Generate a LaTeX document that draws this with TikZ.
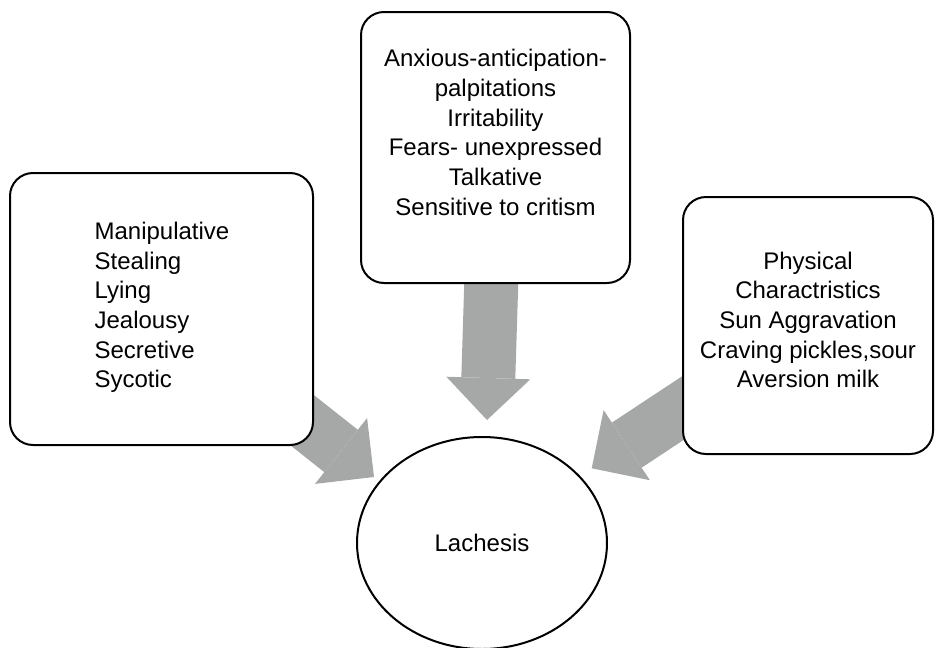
\documentclass[tikz,border=0pt]{standalone}
\usepackage{fontspec}
\setmainfont{Liberation Sans}
\usepackage{tikz}
\usetikzlibrary{shapes.geometric, arrows.meta, backgrounds}

\definecolor{arrowgrey}{RGB}{166,168,167}

\begin{document}
\begin{tikzpicture}[x=1pt, y=-1pt,
    box/.style={draw, line width=2pt, rounded corners=23pt, fill=white},
    boxtext/.style={align=center, font=\fontsize{24}{29.7}\selectfont, inner sep=0pt},
    bigarrow/.style={arrowgrey, line width=54pt, -{Triangle[length=42pt, width=84pt, line width=0pt 0]}}]
  \useasboundingbox (0,0) rectangle (935,648);
  % the three boxes
  \node[box, minimum width=303pt, minimum height=272pt] (left) at (161.5,309) {};
  \node[boxtext, align=left] (lefttext) at (162,307.5) {Manipulative\\Stealing\\Lying\\Jealousy\\Secretive\\Sycotic};
  \node[box, minimum width=269pt, minimum height=271pt] (mid) at (495.5,147.5) {};
  \node[boxtext] (midtext) at (495.5,132.5) {Anxious-anticipation-\\palpitations\\Irritability\\Fears- unexpressed\\Talkative\\Sensitive to critism};
  \node[box, minimum width=250pt, minimum height=257pt] (right) at (808,325.5) {};
  \node[boxtext] (righttext) at (808,320) {Physical\\Charactristics\\Sun Aggravation\\Craving pickles,sour\\Aversion milk};
  % remedy
  \node[draw, ellipse, line width=2pt, fill=white, minimum width=250pt, minimum height=212pt,
        font=\fontsize{24}{29.7}\selectfont] (lachesis) at (482,543) {Lachesis};
  % arrow tips
  \coordinate (tipL) at (374,477);
  \coordinate (tipM) at (487,420);
  \coordinate (tipR) at (591.7,468.3);
  \begin{scope}[on background layer]
    \draw[bigarrow] (left.center) -- (tipL);
    \draw[bigarrow] (mid.center) -- (tipM);
    \draw[bigarrow] (right.center) -- (tipR);
  \end{scope}
\end{tikzpicture}
\end{document}
